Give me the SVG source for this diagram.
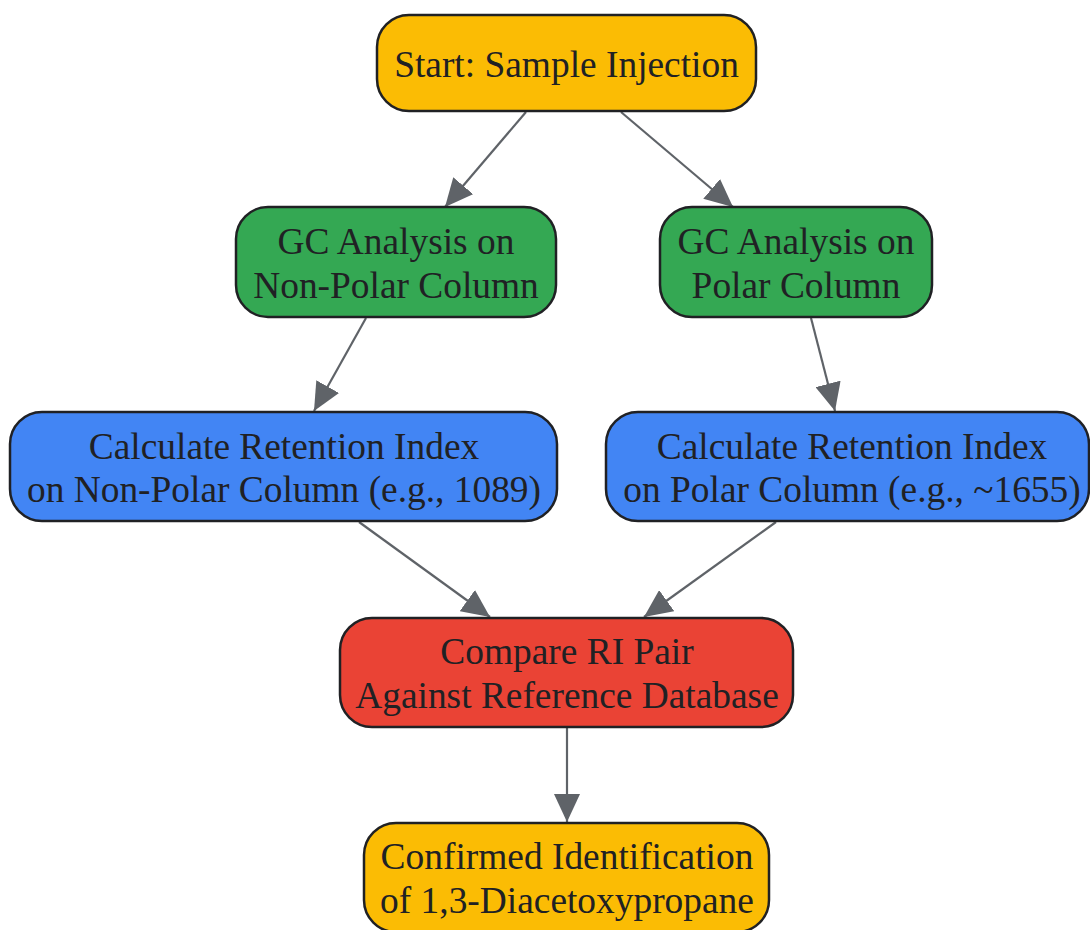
<svg xmlns="http://www.w3.org/2000/svg" width="1090" height="930" viewBox="0 0 1090 930">
<defs>
<style>
.n{stroke:#202124;stroke-width:2.5}
.y{fill:#FBBC04}.g{fill:#34A853}.b{fill:#4285F4}.r{fill:#EA4335}
text{font-family:"Liberation Serif","Times New Roman",serif;font-size:37.4px;fill:#202124;text-anchor:middle}
.e{stroke:#5f6368;stroke-width:2.2;fill:none}
</style>
<marker id="ah" viewBox="0 0 10 10" refX="10" refY="5" markerUnits="userSpaceOnUse" markerWidth="28" markerHeight="26" preserveAspectRatio="none" orient="auto">
<path d="M0,0 L10,5 L0,10 z" fill="#5f6368"/>
</marker>
</defs>
<rect width="1090" height="930" fill="#ffffff"/>
<g id="edges">
<line class="e" x1="526" y1="112" x2="445" y2="207" marker-end="url(#ah)"/>
<line class="e" x1="621" y1="112" x2="733" y2="207" marker-end="url(#ah)"/>
<line class="e" x1="366" y1="318" x2="314" y2="411" marker-end="url(#ah)"/>
<line class="e" x1="811" y1="318" x2="835" y2="411" marker-end="url(#ah)"/>
<line class="e" x1="359" y1="522" x2="490" y2="617" marker-end="url(#ah)"/>
<line class="e" x1="776" y1="522" x2="644" y2="617" marker-end="url(#ah)"/>
<line class="e" x1="567" y1="728" x2="567" y2="822" marker-end="url(#ah)"/>
</g>
<g id="start">
<rect class="n y" x="377" y="15" width="379" height="96" rx="32"/>
<text x="566.5" y="77">Start: Sample Injection</text>
</g>
<g id="gc_nonpolar">
<rect class="n g" x="236" y="207" width="320" height="110" rx="32"/>
<text x="396" y="254">GC Analysis on</text>
<text x="396" y="298">Non-Polar Column</text>
</g>
<g id="gc_polar">
<rect class="n g" x="660" y="207" width="272" height="110" rx="32"/>
<text x="796" y="254">GC Analysis on</text>
<text x="796" y="298">Polar Column</text>
</g>
<g id="ri_nonpolar">
<rect class="n b" x="10" y="412" width="547" height="109" rx="32"/>
<text x="284" y="459">Calculate Retention Index</text>
<text x="284" y="502">on Non-Polar Column (e.g., 1089)</text>
</g>
<g id="ri_polar">
<rect class="n b" x="606" y="412" width="483" height="109" rx="32"/>
<text x="852" y="459">Calculate Retention Index</text>
<text x="852" y="502">on Polar Column (e.g., ~1655)</text>
</g>
<g id="compare">
<rect class="n r" x="340" y="618" width="453" height="109" rx="32"/>
<text x="567" y="664">Compare RI Pair</text>
<text x="567" y="708">Against Reference Database</text>
</g>
<g id="confirmed">
<rect class="n y" x="364" y="823" width="405" height="109" rx="32"/>
<text x="567" y="869">Confirmed Identification</text>
<text x="567" y="913">of 1,3-Diacetoxypropane</text>
</g>
</svg>
